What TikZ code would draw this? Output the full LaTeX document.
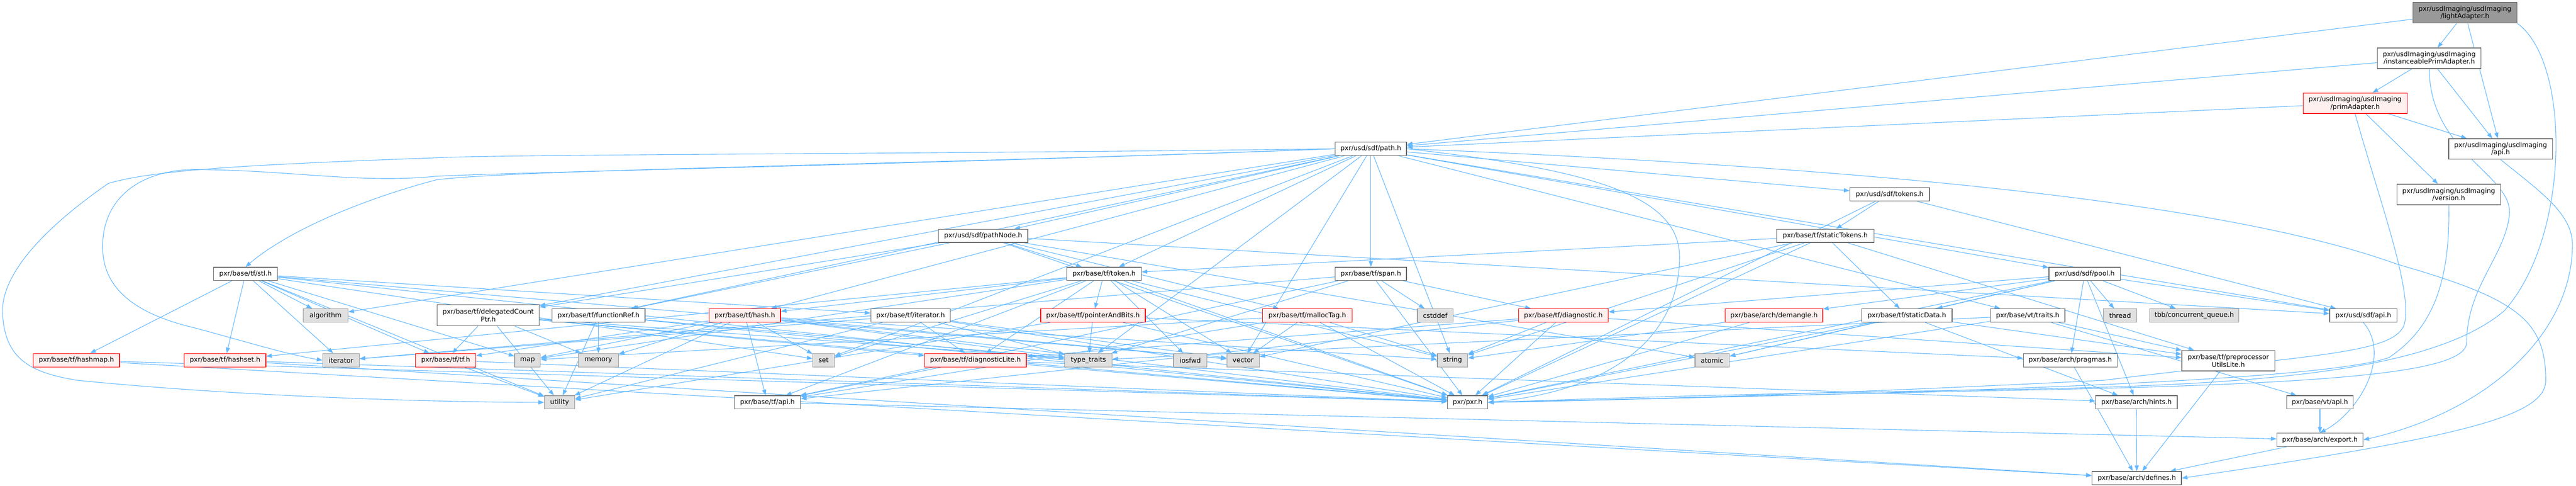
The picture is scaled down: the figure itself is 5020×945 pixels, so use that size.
\documentclass[tikz,border=0pt]{standalone}
\usepackage{fontspec}
\setmainfont{DejaVu Sans}
\usetikzlibrary{arrows.meta}
\pgfdeclarelayer{backdrop}
\pgfdeclarelayer{edgelayer}
\pgfsetlayers{backdrop,edgelayer,main}
\definecolor{edgec}{HTML}{63B8FF}
\definecolor{bordc}{HTML}{666666}
\definecolor{redb}{HTML}{FF0000}
\definecolor{redf}{HTML}{FFF0F0}
\definecolor{grayb}{HTML}{999999}
\definecolor{grayf}{HTML}{E0E0E0}
\definecolor{rootf}{HTML}{999999}
\newcommand\ndfont{\fontsize{12.9}{14.6}\selectfont}
\tikzset{
  nd/.style={draw=bordc, line width=1.3pt, fill=white, inner sep=0pt, minimum height=26pt, font=\ndfont, align=center, text=black},
  rd/.style={nd, draw=redb, fill=redf},
  gy/.style={nd, draw=grayb, fill=grayf},
  rootnd/.style={nd, draw=bordc, fill=rootf},
  e/.style={draw=edgec, line width=1.1pt, -{Triangle[length=11pt,width=8pt]}}
}
\begin{document}
\begin{tikzpicture}[x=1pt,y=-1pt]
\begin{pgfonlayer}{backdrop}
\fill[white] (0,0) rectangle (5020,945);
\end{pgfonlayer}
\useasboundingbox (0,0) rectangle (5020,945);
% nodes
\node[rootnd, minimum width=203pt, minimum height=40pt] (LA) at (4803.5,25) {pxr/usdImaging/usdImaging\\/lightAdapter.h};
\node[nd, minimum width=202pt, minimum height=40pt] (IPA) at (4734,113.5) {pxr/usdImaging/usdImaging\\/instanceablePrimAdapter.h};
\node[rd, minimum width=203pt, minimum height=40pt] (PA) at (4589.5,201) {pxr/usdImaging/usdImaging\\/primAdapter.h};
\node[nd, minimum width=202pt, minimum height=40pt] (UAPI) at (4873,290) {pxr/usdImaging/usdImaging\\/api.h};
\node[nd, minimum width=202pt, minimum height=40pt] (VER) at (4772,378.5) {pxr/usdImaging/usdImaging\\/version.h};
\node[nd, minimum width=139pt] (path) at (2671.5,289.5) {pxr/usd/sdf/path.h};
\node[nd, minimum width=155pt] (tokens) at (3682.5,378) {pxr/usd/sdf/tokens.h};
\node[nd, minimum width=174pt] (pathNode) at (1916,459) {pxr/usd/sdf/pathNode.h};
\node[nd, minimum width=190pt] (staticTokens) at (3557,459) {pxr/base/tf/staticTokens.h};
\node[nd, minimum width=125pt] (stl) at (478.5,533) {pxr/base/tf/stl.h};
\node[nd, minimum width=145pt] (token) at (2151.5,533) {pxr/base/tf/token.h};
\node[nd, minimum width=139pt] (span) at (2671.5,533) {pxr/base/tf/span.h};
\node[nd, minimum width=139pt] (pool) at (4062.5,533) {pxr/usd/sdf/pool.h};
\node[gy, minimum width=87pt] (algorithm) at (634.5,614) {algorithm};
\node[nd, minimum width=199pt, minimum height=41pt] (dCP) at (951.5,613.5) {pxr/base/tf/delegatedCount\\Ptr.h};
\node[nd, minimum width=181pt] (functionRef) at (1166.5,614) {pxr/base/tf/functionRef.h};
\node[rd, minimum width=139pt] (hash) at (1451.5,614) {pxr/base/tf/hash.h};
\node[nd, minimum width=155pt] (tfiter) at (1774.5,614) {pxr/base/tf/iterator.h};
\node[rd, minimum width=204pt] (pAB) at (2130,614) {pxr/base/tf/pointerAndBits.h};
\node[rd, minimum width=175pt] (malloc) at (2547.5,614) {pxr/base/tf/mallocTag.h};
\node[gy, minimum width=70pt] (cstddef) at (2797,614) {cstddef};
\node[rd, minimum width=175pt] (diag) at (3046.5,614) {pxr/base/tf/diagnostic.h};
\node[rd, minimum width=190pt] (demangle) at (3457,614) {pxr/base/arch/demangle.h};
\node[nd, minimum width=176pt] (staticData) at (3716,614) {pxr/base/tf/staticData.h};
\node[nd, minimum width=145pt] (vttraits) at (3951.5,614) {pxr/base/vt/traits.h};
\node[gy, minimum width=65pt] (thread) at (4131.5,614) {thread};
\node[gy, minimum width=174pt] (tbb) at (4276,614) {tbb/concurrent\_queue.h};
\node[nd, minimum width=131pt] (sdfapi) at (4605.5,614) {pxr/usd/sdf/api.h};
\node[rd, minimum width=168pt] (hashmap) at (149,701) {pxr/base/tf/hashmap.h};
\node[rd, minimum width=159pt] (hashset) at (438.5,701) {pxr/base/tf/hashset.h};
\node[gy, minimum width=71pt] (iterator) at (664.5,701) {iterator};
\node[rd, minimum width=117pt] (tfh) at (868.5,701) {pxr/base/tf/tf.h};
\node[gy, minimum width=50pt] (map) at (1028,701) {map};
\node[gy, minimum width=78pt] (memory) at (1166,701) {memory};
\node[gy, minimum width=42pt] (set) at (1605,701) {set};
\node[rd, minimum width=198pt] (diagLite) at (1901,701) {pxr/base/tf/diagnosticLite.h};
\node[gy, minimum width=92pt] (typetraits) at (2121,701) {type\_traits};
\node[gy, minimum width=65pt] (iosfwd) at (2319.5,701) {iosfwd};
\node[gy, minimum width=63pt] (vector) at (2422.5,701) {vector};
\node[gy, minimum width=59pt] (string) at (2830.5,701) {string};
\node[gy, minimum width=67pt] (atomic) at (3336.5,701) {atomic};
\node[nd, minimum width=183pt] (pragmas) at (4034.5,701) {pxr/base/arch/pragmas.h};
\node[nd, minimum width=181pt, minimum height=40pt] (ppUL) at (4342.5,702) {pxr/base/tf/preprocessor\\UtilsLite.h};
\node[gy, minimum width=59pt] (utility) at (1090.5,783) {utility};
\node[nd, minimum width=129pt] (tfapi) at (1495.5,783) {pxr/base/tf/api.h};
\node[nd, minimum width=78pt] (pxr) at (2860,783) {pxr/pxr.h};
\node[nd, minimum width=159pt] (hints) at (4163.5,783) {pxr/base/arch/hints.h};
\node[nd, minimum width=130pt] (vtapi) at (4521,783) {pxr/base/vt/api.h};
\node[nd, minimum width=168pt] (export) at (4521,856) {pxr/base/arch/export.h};
\node[nd, minimum width=174pt] (defines) at (4164,930.5) {pxr/base/arch/defines.h};
% edges
\begin{pgfonlayer}{edgelayer}
\foreach \tg in {IPA,UAPI,path} {\draw[e] (LA) -- (\tg);}
\draw[e] (LA.south east) .. controls (5010,120) and (5010,460) .. (4880,605) .. controls (4720,740) and (4300,752) .. (3800,760) .. controls (3300,768) and (3050,778) .. (pxr.east);
\foreach \tg in {PA,UAPI,path} {\draw[e] (IPA) -- (\tg);}
\draw[e] (IPA.south) .. controls (4735,300) and (4900,340) .. (4890,420) .. controls (4880,500) and (4807,560) .. (4807,666) .. controls (4807,720) and (4600,745) .. (4000,758) .. controls (3400,770) and (3050,780) .. (pxr.east);
\foreach \tg in {UAPI,VER,path} {\draw[e] (PA) -- (\tg);}
\draw[e] (PA.south) .. controls (4640,400) and (4700,560) .. (4686,629) .. controls (4670,690) and (4500,690) .. (4100,740) .. controls (3500,770) and (3100,780) .. (pxr.east);
\draw[e] (VER.south) .. controls (4775,550) and (4740,640) .. (4655,696) .. controls (4500,750) and (3500,770) .. (pxr.east);
\draw[e] (UAPI.south) .. controls (4960,380) and (5015,420) .. (5013,480) .. controls (5010,650) and (4850,800) .. (export.east);
\draw[e] (sdfapi.south) .. controls (4660,690) and (4600,800) .. (export.north);
\foreach \tg in {export} {\draw[e] (vtapi) -- (\tg); \draw[e] (tfapi) -- (\tg);}
\foreach \tg in {export,hints,pragmas,ppUL,hashmap,hashset} {\draw[e] (\tg) -- (defines);}
% path
\foreach \tg in {pathNode,token,span,string,tokens,pool,vttraits,sdfapi,vector,typetraits,dCP,functionRef,algorithm,set,hash} {\draw[e] (path) -- (\tg);}
\draw[e] (path.east) .. controls (3100,330) and (3273,380) .. (3273,500) .. controls (3273,650) and (3150,760) .. (pxr.east);
\draw[e] (path.west) .. controls (1800,300) and (1000,300) .. (850,307) .. controls (500,320) and (300,330) .. (211,357) .. controls (120,420) and (0,520) .. (5,611) .. controls (10,700) and (60,725) .. (150,740) .. controls (500,775) and (900,783) .. (utility.west);
\draw[e] (path.west) .. controls (1800,320) and (1000,335) .. (850,343) .. controls (700,358) and (560,330) .. (374,330) .. controls (280,332) and (200,380) .. (200,480) .. controls (200,560) and (260,610) .. (379,638) .. controls (480,665) and (560,690) .. (iterator.west);
\draw[e] (path.west) .. controls (1800,320) and (1000,330) .. (850,350) .. controls (700,390) and (560,450) .. (stl.north);
\draw[e] (path.east) .. controls (3500,320) and (4300,380) .. (4671,514) .. controls (4900,580) and (4961,620) .. (4961,740) .. controls (4961,810) and (4800,850) .. (defines.east);
% others
\foreach \tg in {staticTokens,sdfapi,pxr} {\draw[e] (tokens) -- (\tg);}
\foreach \tg in {token,malloc,dCP,functionRef,pxr,sdfapi,atomic} {\draw[e] (pathNode) -- (\tg);}
\foreach \tg in {staticData,token,ppUL,pxr,vector,string} {\draw[e] (staticTokens) -- (\tg);}
\foreach \tg in {pAB,diagLite,iosfwd,vector,string,hashset,hash,tfapi,pxr,set,map} {\draw[e] (token) -- (\tg);}
\foreach \tg in {hashmap,hashset,tfiter,algorithm,iterator,tfh,map,set,utility,vector,pxr} {\draw[e] (stl) -- (\tg);}
\foreach \tg in {tfh,memory,utility,diagLite,typetraits,pxr} {\draw[e] (dCP) -- (\tg);}
\foreach \tg in {memory,utility,typetraits,pxr} {\draw[e] (functionRef) -- (\tg);}
\foreach \tg in {tfh,map,memory,utility,tfapi,set,pxr,string,vector,typetraits} {\draw[e] (hash) -- (\tg);}
\foreach \tg in {diagLite,typetraits,vector,pxr,utility,iterator} {\draw[e] (tfiter) -- (\tg);}
\foreach \tg in {typetraits,pxr,pragmas,utility} {\draw[e] (pAB) -- (\tg);}
\foreach \tg in {string,pxr,tfapi,vector,map} {\draw[e] (malloc) -- (\tg);}
\foreach \tg in {string,pxr,tfapi,diagLite,ppUL} {\draw[e] (diag) -- (\tg);}
\foreach \tg in {cstddef,diag,pxr,iterator,typetraits,tfapi} {\draw[e] (span) -- (\tg);}
\foreach \tg in {demangle,staticData,thread,tbb,atomic,pxr,sdfapi,hints,pragmas,diag} {\draw[e] (pool) -- (\tg);}
\foreach \tg in {atomic,pxr,hints,ppUL} {\draw[e] (staticData) -- (\tg);}
\foreach \tg in {pxr,string} {\draw[e] (demangle) -- (\tg);}
\foreach \tg in {pxr,vtapi,ppUL,typetraits} {\draw[e] (vttraits) -- (\tg);}
\foreach \tg in {pxr,utility} {\draw[e] (tfh) -- (\tg);}
\foreach \tg in {hashmap,hashset} {\draw[e] (\tg) -- (pxr);}
\foreach \tg in {pxr,tfapi,hints} {\draw[e] (diagLite) -- (\tg);}
\end{pgfonlayer}
\end{tikzpicture}
\end{document}
